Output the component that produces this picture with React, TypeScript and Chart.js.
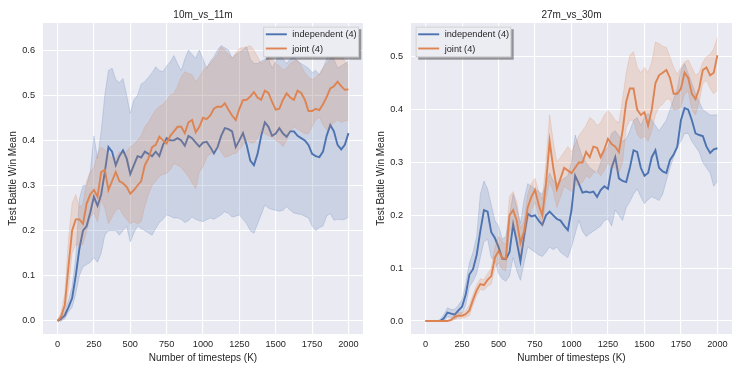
import React, { useEffect, useRef } from "react";
import { Chart, registerables } from "chart.js";
Chart.register(...registerables);

const TIMESTEPS = [
  0, 25, 50, 75, 100, 125, 150, 175, 200, 225, 250, 275, 300, 325, 350, 375, 400, 425, 450, 475,
  500, 525, 550, 575, 600, 625, 650, 675, 700, 725, 750, 775, 800, 825, 850, 875, 900, 925, 950, 975,
  1000, 1025, 1050, 1075, 1100, 1125, 1150, 1175, 1200, 1225, 1250, 1275, 1300, 1325, 1350, 1375, 1400, 1425, 1450, 1475,
  1500, 1525, 1550, 1575, 1600, 1625, 1650, 1675, 1700, 1725, 1750, 1775, 1800, 1825, 1850, 1875, 1900, 1925, 1950, 1975,
  2000,
];
const X_TICKS = [0, 250, 500, 750, 1000, 1250, 1500, 1750, 2000];
const LEFT_Y_TICKS = [0, 0.1, 0.2, 0.3, 0.4, 0.5, 0.6];
const RIGHT_Y_TICKS = [0, 0.1, 0.2, 0.3, 0.4, 0.5];
const LEGEND_LABELS = ["independent (4)", "joint (4)"];

// ---- 10m_vs_11m ----
const L_INDEP_MEAN = [
  0, 0.005, 0.012, 0.03, 0.05, 0.1, 0.16, 0.2, 0.21, 0.24, 0.275, 0.255, 0.28, 0.33, 0.385, 0.375, 0.345, 0.365, 0.378, 0.36,
  0.325, 0.345, 0.365, 0.362, 0.375, 0.37, 0.365, 0.375, 0.365, 0.39, 0.405, 0.4, 0.4, 0.405, 0.4, 0.388, 0.41, 0.405, 0.395, 0.386,
  0.395, 0.397, 0.385, 0.371, 0.385, 0.41, 0.427, 0.425, 0.42, 0.385, 0.4, 0.416, 0.39, 0.355, 0.345, 0.37, 0.41, 0.44, 0.43, 0.41,
  0.415, 0.427, 0.415, 0.408, 0.42, 0.42, 0.41, 0.405, 0.4, 0.39, 0.37, 0.365, 0.363, 0.375, 0.41, 0.434, 0.42, 0.39, 0.38, 0.39,
  0.416,
];
const L_INDEP_HIGH = [
  0, 0.01, 0.02, 0.045, 0.075, 0.14, 0.27, 0.3, 0.3, 0.33, 0.41, 0.36, 0.42, 0.5, 0.555, 0.56, 0.535, 0.528, 0.537, 0.5,
  0.46, 0.49, 0.5, 0.525, 0.53, 0.54, 0.55, 0.563, 0.555, 0.552, 0.565, 0.574, 0.588, 0.57, 0.554, 0.58, 0.6, 0.59, 0.582, 0.6,
  0.58, 0.56, 0.575, 0.585, 0.6, 0.61, 0.605, 0.6, 0.582, 0.59, 0.596, 0.6, 0.607, 0.58, 0.57, 0.57, 0.575, 0.58, 0.581, 0.56,
  0.575, 0.59, 0.58, 0.57, 0.58, 0.585, 0.575, 0.57, 0.565, 0.56, 0.55, 0.555, 0.545, 0.56, 0.58, 0.595, 0.58, 0.56, 0.565, 0.57,
  0.575,
];
const L_INDEP_LOW = [
  0, 0, 0.005, 0.02, 0.03, 0.06, 0.1, 0.12, 0.125, 0.13, 0.14, 0.13, 0.15, 0.19, 0.2, 0.2, 0.2, 0.19, 0.2, 0.21,
  0.175, 0.195, 0.21, 0.205, 0.2, 0.195, 0.19, 0.205, 0.218, 0.225, 0.235, 0.232, 0.228, 0.228, 0.225, 0.218, 0.222, 0.23, 0.225, 0.222,
  0.22, 0.224, 0.228, 0.225, 0.23, 0.235, 0.242, 0.238, 0.23, 0.232, 0.235, 0.225, 0.215, 0.2, 0.194, 0.215, 0.235, 0.257, 0.25, 0.247,
  0.245, 0.243, 0.245, 0.253, 0.245, 0.239, 0.237, 0.236, 0.232, 0.228, 0.21, 0.2, 0.207, 0.21, 0.232, 0.238, 0.223, 0.225, 0.224, 0.225,
  0.23,
];
const L_JOINT_MEAN = [
  0, 0.01, 0.035, 0.12, 0.2, 0.225, 0.225, 0.215, 0.26, 0.28, 0.29, 0.275, 0.33, 0.335, 0.29, 0.31, 0.33, 0.31, 0.305, 0.297,
  0.282, 0.29, 0.3, 0.31, 0.345, 0.36, 0.385, 0.39, 0.408, 0.4, 0.393, 0.41, 0.42, 0.43, 0.43, 0.416, 0.44, 0.445, 0.418, 0.43,
  0.45, 0.447, 0.455, 0.47, 0.475, 0.474, 0.482, 0.468, 0.455, 0.445, 0.47, 0.489, 0.49, 0.497, 0.507, 0.495, 0.49, 0.51, 0.505, 0.485,
  0.468, 0.47, 0.49, 0.504, 0.495, 0.49, 0.51, 0.505, 0.49, 0.465, 0.465, 0.47, 0.467, 0.48, 0.496, 0.515, 0.52, 0.53, 0.52, 0.512,
  0.513,
];
const L_JOINT_HIGH = [
  0, 0.02, 0.06, 0.18, 0.26, 0.28, 0.25, 0.26, 0.31, 0.33, 0.34, 0.37, 0.385, 0.38, 0.37, 0.36, 0.36, 0.375, 0.37, 0.375,
  0.386, 0.39, 0.4, 0.41, 0.43, 0.44, 0.455, 0.467, 0.475, 0.48, 0.489, 0.5, 0.504, 0.52, 0.54, 0.552, 0.548, 0.545, 0.53, 0.54,
  0.555, 0.563, 0.57, 0.58, 0.59, 0.607, 0.6, 0.59, 0.582, 0.593, 0.604, 0.605, 0.607, 0.61, 0.6, 0.585, 0.57, 0.575, 0.585, 0.58,
  0.57, 0.565, 0.556, 0.56, 0.57, 0.575, 0.578, 0.565, 0.55, 0.54, 0.534, 0.54, 0.548, 0.56, 0.57, 0.58, 0.59, 0.6, 0.59, 0.575,
  0.565,
];
const L_JOINT_LOW = [
  0, 0, 0.015, 0.07, 0.15, 0.17, 0.165, 0.17, 0.2, 0.23, 0.24, 0.22, 0.27, 0.25, 0.216, 0.23, 0.245, 0.25, 0.235, 0.225,
  0.215, 0.22, 0.215, 0.22, 0.255, 0.28, 0.3, 0.31, 0.32, 0.325, 0.327, 0.335, 0.349, 0.345, 0.34, 0.33, 0.32, 0.305, 0.293, 0.33,
  0.341, 0.363, 0.37, 0.375, 0.386, 0.375, 0.363, 0.365, 0.37, 0.371, 0.38, 0.39, 0.4, 0.395, 0.394, 0.405, 0.42, 0.415, 0.41, 0.408,
  0.4, 0.395, 0.386, 0.4, 0.42, 0.43, 0.425, 0.42, 0.415, 0.415, 0.43, 0.445, 0.452, 0.435, 0.423, 0.43, 0.44, 0.445, 0.44, 0.443,
  0.445,
];

// ---- 27m_vs_30m ----
const R_INDEP_MEAN = [
  0, 0, 0, 0, 0, 0.005, 0.016, 0.014, 0.012, 0.02, 0.027, 0.05, 0.088, 0.098, 0.125, 0.17, 0.21, 0.207, 0.168, 0.157,
  0.14, 0.118, 0.117, 0.13, 0.183, 0.15, 0.113, 0.16, 0.203, 0.198, 0.2, 0.19, 0.182, 0.2, 0.207, 0.2, 0.193, 0.19, 0.18, 0.172,
  0.21, 0.275, 0.26, 0.243, 0.245, 0.243, 0.245, 0.235, 0.248, 0.255, 0.25, 0.29, 0.31, 0.27, 0.265, 0.263, 0.29, 0.323, 0.32, 0.29,
  0.275, 0.28, 0.31, 0.323, 0.29, 0.283, 0.28, 0.305, 0.315, 0.33, 0.38, 0.403, 0.4, 0.38, 0.355, 0.352, 0.35, 0.33, 0.318, 0.325,
  0.327,
];
const R_INDEP_HIGH = [
  0, 0, 0, 0, 0.003, 0.012, 0.025, 0.022, 0.022, 0.03, 0.04, 0.07, 0.11, 0.13, 0.16, 0.24, 0.265, 0.25, 0.22, 0.19,
  0.18, 0.155, 0.16, 0.2, 0.24, 0.215, 0.185, 0.23, 0.26, 0.255, 0.25, 0.245, 0.24, 0.26, 0.28, 0.265, 0.26, 0.265, 0.27, 0.275,
  0.3, 0.352, 0.33, 0.31, 0.3, 0.29, 0.285, 0.28, 0.3, 0.32, 0.33, 0.355, 0.36, 0.35, 0.34, 0.345, 0.36, 0.38, 0.385, 0.37,
  0.385, 0.393, 0.38, 0.37, 0.36, 0.37, 0.38, 0.4, 0.42, 0.44, 0.475, 0.487, 0.468, 0.45, 0.43, 0.415, 0.4, 0.395, 0.39, 0.39,
  0.39,
];
const R_INDEP_LOW = [
  0, 0, 0, 0, 0, 0, 0.008, 0.006, 0.004, 0.01, 0.014, 0.03, 0.065, 0.075, 0.09, 0.12, 0.15, 0.155, 0.12, 0.115,
  0.09, 0.08, 0.075, 0.085, 0.12, 0.095, 0.077, 0.11, 0.14, 0.135, 0.13, 0.125, 0.122, 0.13, 0.14, 0.135, 0.14, 0.13, 0.125, 0.12,
  0.14, 0.165, 0.19, 0.17, 0.16, 0.165, 0.17, 0.175, 0.18, 0.19, 0.193, 0.18, 0.21, 0.2, 0.19, 0.215, 0.226, 0.24, 0.25, 0.235,
  0.222, 0.23, 0.235, 0.232, 0.228, 0.24, 0.266, 0.29, 0.31, 0.33, 0.34, 0.355, 0.355, 0.34, 0.33, 0.32, 0.3, 0.29, 0.28, 0.255,
  0.265,
];
const R_JOINT_MEAN = [
  0, 0, 0, 0, 0, 0, 0, 0.002, 0.008, 0.01, 0.01, 0.013, 0.02, 0.04, 0.058, 0.07, 0.068, 0.078, 0.085, 0.12,
  0.132, 0.12, 0.118, 0.2, 0.21, 0.19, 0.148, 0.17, 0.215, 0.235, 0.248, 0.22, 0.2, 0.26, 0.34, 0.29, 0.25, 0.27, 0.29, 0.285,
  0.28, 0.29, 0.3, 0.3, 0.32, 0.31, 0.33, 0.328, 0.31, 0.325, 0.345, 0.335, 0.33, 0.32, 0.36, 0.415, 0.44, 0.44, 0.4, 0.39,
  0.395, 0.37, 0.4, 0.45, 0.465, 0.47, 0.475, 0.46, 0.43, 0.43, 0.44, 0.47, 0.46, 0.43, 0.42, 0.44, 0.475, 0.48, 0.465, 0.47,
  0.503,
];
const R_JOINT_HIGH = [
  0, 0, 0, 0, 0, 0, 0, 0.004, 0.014, 0.016, 0.016, 0.02, 0.03, 0.05, 0.068, 0.08, 0.078, 0.09, 0.1, 0.14,
  0.16, 0.15, 0.145, 0.235, 0.245, 0.225, 0.175, 0.19, 0.24, 0.26, 0.27, 0.245, 0.23, 0.3, 0.39, 0.34, 0.3, 0.31, 0.32, 0.33,
  0.32, 0.335, 0.35, 0.36, 0.37, 0.385, 0.38, 0.37, 0.375, 0.39, 0.398, 0.39, 0.38, 0.375, 0.42, 0.47, 0.503, 0.51, 0.48, 0.47,
  0.48, 0.47, 0.49, 0.528, 0.525, 0.52, 0.518, 0.5, 0.48, 0.467, 0.48, 0.49, 0.494, 0.48, 0.465, 0.47, 0.49, 0.5, 0.505, 0.515,
  0.537,
];
const R_JOINT_LOW = [
  0, 0, 0, 0, 0, 0, 0, 0, 0.003, 0.005, 0.005, 0.007, 0.01, 0.03, 0.048, 0.06, 0.058, 0.066, 0.07, 0.1,
  0.11, 0.098, 0.095, 0.17, 0.18, 0.16, 0.125, 0.15, 0.19, 0.21, 0.225, 0.2, 0.18, 0.23, 0.265, 0.245, 0.215, 0.235, 0.255, 0.25,
  0.245, 0.255, 0.26, 0.262, 0.275, 0.27, 0.28, 0.285, 0.275, 0.285, 0.3, 0.29, 0.29, 0.28, 0.3, 0.365, 0.38, 0.38, 0.354, 0.345,
  0.35, 0.34, 0.36, 0.39, 0.405, 0.41, 0.42, 0.42, 0.4, 0.4, 0.405, 0.43, 0.435, 0.4, 0.39, 0.415, 0.45, 0.455, 0.44, 0.43,
  0.437,
];

const FONT = '"Liberation Sans", Arial, Helvetica, sans-serif';
const TEXT = "#262626";
const BLUE = "#4C72B0";
const ORANGE = "#DD8452";
const BLUE_FILL = "rgba(76,114,176,0.2)";
const ORANGE_FILL = "rgba(221,132,82,0.2)";
const BLUE_EDGE = "rgba(76,114,176,0.3)";
const ORANGE_EDGE = "rgba(221,132,82,0.3)";

type PanelProps = {
  title: string;
  left: number;
  width: number;
  padRight: number;
  yAxisWidth: number;
  yMin: number;
  yMax: number;
  yTicks: number[];
  yLabelX: number;
  legendX: number;
  indepMean: number[];
  indepHigh: number[];
  indepLow: number[];
  jointMean: number[];
  jointHigh: number[];
  jointLow: number[];
};

function Panel(p: PanelProps) {
  const ref = useRef<HTMLCanvasElement>(null);
  useEffect(() => {
    const canvas = ref.current;
    if (!canvas) return;
    const pts = (arr: number[]) => TIMESTEPS.map((t, i) => ({ x: t, y: arr[i] }));
    const decor = {
      id: "decor",
      beforeDraw(chart: any) {
        const { ctx, chartArea } = chart;
        ctx.save();
        ctx.fillStyle = "#ffffff";
        ctx.fillRect(0, 0, chart.width, chart.height);
        ctx.fillStyle = "#EAEAF2";
        ctx.fillRect(chartArea.left, chartArea.top, chartArea.right - chartArea.left, chartArea.bottom - chartArea.top);
        ctx.restore();
      },
      afterDraw(chart: any) {
        const { ctx, chartArea } = chart;
        const cx = (chartArea.left + chartArea.right) / 2;
        const cy = (chartArea.top + chartArea.bottom) / 2;
        ctx.save();
        ctx.fillStyle = TEXT;
        ctx.textAlign = "center";
        ctx.textBaseline = "middle";
        ctx.font = `10px ${FONT}`;
        ctx.fillText(p.title, cx, 15);
        ctx.fillText("Number of timesteps (K)", cx, 358);
        ctx.save();
        ctx.translate(p.yLabelX, cy);
        ctx.rotate(-Math.PI / 2);
        ctx.fillText("Test Battle Win Mean", 0, 0);
        ctx.restore();

        // legend
        const lx = p.legendX;
        const ly = 26.7;
        const w = 95.5;
        const h = 30.5;
        ctx.fillStyle = "rgba(60,60,64,0.5)";
        ctx.fillRect(lx + 2.5, ly + 2.5, w, h);
        ctx.fillStyle = "rgb(236,236,243)";
        ctx.fillRect(lx, ly, w, h);
        ctx.strokeStyle = "#cccccc";
        ctx.lineWidth = 0.8;
        ctx.strokeRect(lx + 0.4, ly + 0.4, w - 0.8, h - 0.8);
        const rows = [
          { label: LEGEND_LABELS[0], color: BLUE, y: ly + 7.6 },
          { label: LEGEND_LABELS[1], color: ORANGE, y: ly + 21.8 },
        ];
        ctx.font = `9.2px ${FONT}`;
        ctx.textAlign = "left";
        for (const r of rows) {
          ctx.strokeStyle = r.color;
          ctx.lineWidth = 1.9;
          ctx.beginPath();
          ctx.moveTo(lx + 2.5, r.y);
          ctx.lineTo(lx + 23.5, r.y);
          ctx.stroke();
          ctx.fillStyle = TEXT;
          ctx.fillText(r.label, lx + 29, r.y + 0.5);
        }
        ctx.restore();
      },
    };
    const band = (arr: number[], edge: string, fill: any, bg: string) => ({
      data: pts(arr),
      borderColor: edge,
      borderWidth: 0.7,
      backgroundColor: bg,
      pointRadius: 0,
      fill,
      tension: 0,
    });
    const line = (arr: number[], color: string) => ({
      data: pts(arr),
      borderColor: color,
      borderWidth: 1.9,
      pointRadius: 0,
      fill: false,
      tension: 0,
    });
    const chart = new Chart(canvas, {
      type: "line",
      data: {
        datasets: [
          line(p.jointMean, ORANGE),
          band(p.jointHigh, ORANGE_EDGE, "+1", ORANGE_FILL),
          band(p.jointLow, ORANGE_EDGE, false, ORANGE_FILL),
          line(p.indepMean, BLUE),
          band(p.indepHigh, BLUE_EDGE, "+1", BLUE_FILL),
          band(p.indepLow, BLUE_EDGE, false, BLUE_FILL),
        ] as any,
      },
      options: {
        responsive: false,
        animation: false,
        devicePixelRatio: 1,
        layout: { padding: { top: 23, right: p.padRight, bottom: 0, left: 0 } },
        plugins: {
          legend: { display: false },
          title: { display: false },
          tooltip: { enabled: false },
        },
        scales: {
          x: {
            type: "linear",
            min: -100,
            max: 2100,
            afterBuildTicks: (s: any) => {
              s.ticks = X_TICKS.map((v) => ({ value: v }));
            },
            afterFit: (s: any) => {
              s.height = 40;
            },
            ticks: {
              autoSkip: false,
              maxRotation: 0,
              padding: 5,
              color: TEXT,
              font: { family: FONT, size: 9.2 },
              callback: (v: any) => String(v),
            },
            grid: { color: "#ffffff", lineWidth: 1.1, drawTicks: false },
            border: { display: false },
          },
          y: {
            type: "linear",
            min: p.yMin,
            max: p.yMax,
            afterBuildTicks: (s: any) => {
              s.ticks = p.yTicks.map((v) => ({ value: v }));
            },
            afterFit: (s: any) => {
              s.width = p.yAxisWidth;
            },
            ticks: {
              padding: 8,
              color: TEXT,
              font: { family: FONT, size: 9.2 },
              callback: (v: any) => Number(v).toFixed(1),
            },
            grid: { color: "#ffffff", lineWidth: 1.1, drawTicks: false },
            border: { display: false },
          },
        },
      } as any,
      plugins: [decor],
    });
    return () => chart.destroy();
  }, []);
  return (
    <canvas
      ref={ref}
      width={p.width}
      height={374}
      style={{ position: "absolute", left: p.left, top: 0, width: p.width, height: 374, display: "block" }}
    />
  );
}

export default function App() {
  return (
    <div style={{ position: "absolute", left: 0, top: 0, width: 747, height: 374, background: "#fff" }}>
      <Panel
        title="10m_vs_11m"
        left={0}
        width={373}
        padRight={10}
        yAxisWidth={43}
        yMin={-0.029}
        yMax={0.66}
        yTicks={LEFT_Y_TICKS}
        yLabelX={13.5}
        legendX={263.3}
        indepMean={L_INDEP_MEAN}
        indepHigh={L_INDEP_HIGH}
        indepLow={L_INDEP_LOW}
        jointMean={L_JOINT_MEAN}
        jointHigh={L_JOINT_HIGH}
        jointLow={L_JOINT_LOW}
      />
      <Panel
        title="27m_vs_30m"
        left={373}
        width={374}
        padRight={15}
        yAxisWidth={38}
        yMin={-0.0246}
        yMax={0.564}
        yTicks={RIGHT_Y_TICKS}
        yLabelX={8}
        legendX={42.7}
        indepMean={R_INDEP_MEAN}
        indepHigh={R_INDEP_HIGH}
        indepLow={R_INDEP_LOW}
        jointMean={R_JOINT_MEAN}
        jointHigh={R_JOINT_HIGH}
        jointLow={R_JOINT_LOW}
      />
    </div>
  );
}
